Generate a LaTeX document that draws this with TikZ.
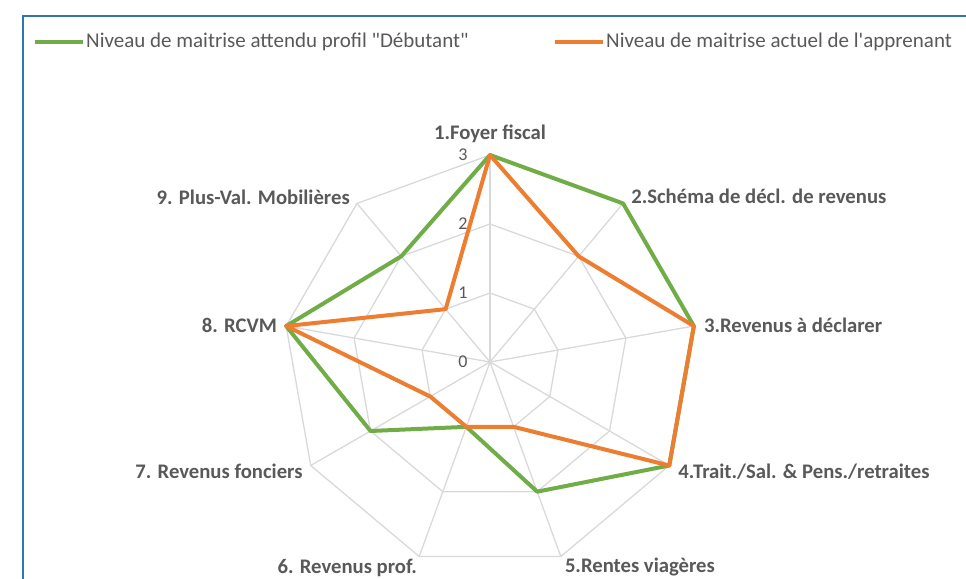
\documentclass[tikz,border=0pt]{standalone}
\usepackage{fontspec}
\setmainfont{Carlito}
\usepackage{xcolor}
\definecolor{vert}{HTML}{70AD47}
\definecolor{orange}{HTML}{ED7D31}
\definecolor{grille}{HTML}{D9D9D9}
\definecolor{gris}{HTML}{595959}
\definecolor{cadre}{HTML}{2E75B6}
\tikzset{
  serie/.style={line width=4pt,line join=round},
  axe/.style={grille,line width=1.3pt},
  etiq/.style={gris,inner sep=0pt,font=\fontsize{20.7}{23}\selectfont\bfseries},
  legende/.style={gris,inner sep=0pt,anchor=west,font=\fontsize{21}{24}\selectfont},
  niveau/.style={gris,inner sep=0pt,font=\fontsize{18}{20}\selectfont}
}

\begin{document}
\begin{tikzpicture}[x=1pt,y=1pt]
    \useasboundingbox (-490,-216) rectangle (476,362);
    \draw[cadre,line width=2pt] (-467,-230) -- (-467,346) -- (490,346);
    % grille
    \foreach \r in {1,2,3}
    \draw[axe] (90:\r*69) \foreach \k in {1,...,8} { -- (90-\k*40:\r*69) } -- cycle;
    \foreach \k in {1,...,9}
    \coordinate (a\k) at (130-\k*40:207);
    \foreach \k in {1,...,9}
    \draw[axe] (0,0) -- (a\k);
    \foreach \n in {0,...,3}
    \node[niveau] (niv\n) at (-27,\n*69) {\n};
    % etiquettes des axes
    \node[etiq,anchor=south] (lab1) at ([yshift=12]a1) {1.Foyer fiscal};
    \node[etiq,anchor=west] (lab2) at ([shift={(8,7)}]a2) {2.Schéma de décl. de revenus};
    \node[etiq,anchor=west] (lab3) at ([shift={(10,1)}]a3) {3.Revenus à déclarer};
    \node[etiq,anchor=west] (lab4) at ([shift={(9,-6)}]a4) {4.Trait./Sal. \& Pens./retraites};
    \node[etiq,anchor=west] (lab5) at ([shift={(4,-10)}]a5) {5.Rentes viagères};
    \node[etiq,anchor=east] (lab6) at ([shift={(-2,-11)}]a6) {6. Revenus prof.};
    \node[etiq,anchor=east] (lab7) at ([shift={(-8,-6)}]a7) {7. Revenus fonciers};
    \node[etiq,anchor=east] (lab8) at ([shift={(-9,1)}]a8) {8. RCVM};
    \node[etiq,anchor=east] (lab9) at ([shift={(-7,6)}]a9) {9. Plus-Val. Mobilières};
    % series
    \foreach \v [count=\k] in {3,3,3,3,2,1,2,3,2}
    \coordinate (d\k) at (130-\k*40:\v*69);
    \foreach \v [count=\k] in {3,2,3,3,1,1,1,3,1}
    \coordinate (o\k) at (130-\k*40:\v*69);
    \draw[serie,vert] (d1) \foreach \k in {2,...,9} { -- (d\k) } -- cycle;
    \draw[serie,orange] (o1) \foreach \k in {2,...,9} { -- (o\k) } -- cycle;
    % legende
    \node[legende] (leg1) at (-404,320) {Niveau de maitrise attendu profil \textquotedbl Débutant\textquotedbl};
    \node[legende] (leg2) at (116,320) {Niveau de maitrise actuel de l\textquotesingle apprenant};
    \draw[serie,vert] ([xshift=-51]leg1.west) -- ([xshift=-3]leg1.west);
    \draw[serie,orange] ([xshift=-51]leg2.west) -- ([xshift=-3]leg2.west);
\end{tikzpicture}
\end{document}
